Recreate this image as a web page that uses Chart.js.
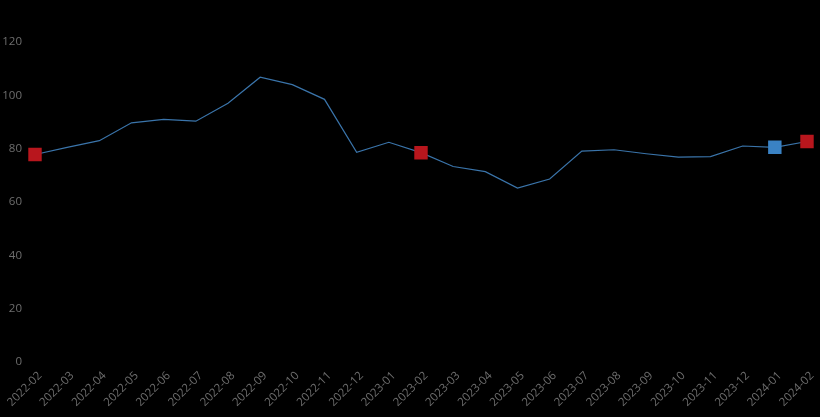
<!DOCTYPE html>
<html>
<head>
<meta charset="utf-8">
<script src="https://cdn.jsdelivr.net/npm/chart.js@4/dist/chart.umd.min.js"></script>
<style>
  html, body { margin: 0; padding: 0; background: #000; }
  #wrap { width: 820px; height: 417px; }
</style>
</head>
<body>
<div id="wrap"><canvas id="chart"></canvas></div>
<script>
// Monthly series, Feb 2022 - Feb 2024
const months = [
  '2022-02', '2022-03', '2022-04', '2022-05', '2022-06', '2022-07', '2022-08',
  '2022-09', '2022-10', '2022-11', '2022-12', '2023-01', '2023-02', '2023-03',
  '2023-04', '2023-05', '2023-06', '2023-07', '2023-08', '2023-09', '2023-10',
  '2023-11', '2023-12', '2024-01', '2024-02'
];
const values = [
  77.8, 80.5, 83.0, 89.7, 91.0, 90.3, 97.0,
  106.8, 104.0, 98.5, 78.6, 82.4, 78.5, 73.3,
  71.4, 65.2, 68.6, 79.1, 79.6, 78.1, 76.8,
  77.0, 81.0, 80.5, 82.7
];
// highlighted months: red markers, blue marker for the latest full month
const redMarks = ['2022-02', '2023-02', '2024-02'];
const blueMarks = ['2024-01'];

const RED = '#b8161d';
const BLUE = '#3a82c4';

function markColor(i) {
  const m = months[i];
  if (blueMarks.includes(m)) return BLUE;
  if (redMarks.includes(m)) return RED;
  return 'rgba(0,0,0,0)';
}

new Chart(document.getElementById('chart'), {
  type: 'line',
  data: {
    labels: months,
    datasets: [{
      data: values,
      borderColor: '#3a74aa',
      borderWidth: 1.2,
      tension: 0,
      fill: false,
      pointStyle: 'rect',
      pointRadius: ctx => (redMarks.includes(months[ctx.dataIndex]) || blueMarks.includes(months[ctx.dataIndex])) ? 9.5 : 0,
      pointBackgroundColor: ctx => markColor(ctx.dataIndex),
      pointBorderWidth: 0,
      pointHoverRadius: 9.5
    }]
  },
  options: {
    responsive: true,
    maintainAspectRatio: false,
    animation: false,
    layout: { padding: { top: 42, right: 13, left: 0, bottom: 0 } },
    plugins: {
      legend: { display: false },
      tooltip: { enabled: false }
    },
    scales: {
      x: {
        offset: false,
        grid: { display: false },
        border: { display: false },
        ticks: {
          color: '#6e6e6e',
          font: { family: 'Open Sans', size: 11.5 },
          maxRotation: 45,
          minRotation: 45,
          autoSkip: false,
          padding: -1,
          labelOffset: 5
        },
        // let the first/last rotated labels hang into the margin
        afterFit: s => { s.paddingLeft = 0; s.paddingRight = 0; s.height = 55; }
      },
      y: {
        min: 0,
        max: 120,
        grid: { display: false },
        border: { display: false },
        ticks: {
          stepSize: 20,
          color: '#6e6e6e',
          font: { family: 'Open Sans', size: 11.5 },
          padding: 5
        },
        afterFit: s => { s.width = 35; }
      }
    }
  }
});
</script>
</body>
</html>
